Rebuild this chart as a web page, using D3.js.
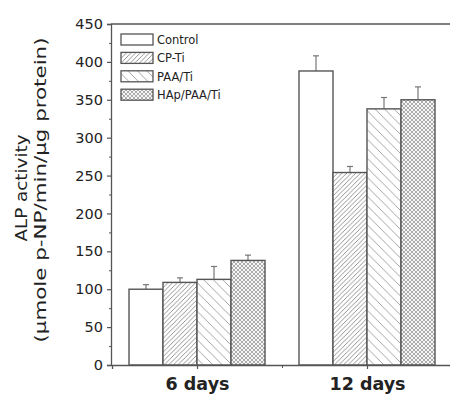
<!DOCTYPE html>
<html><head><meta charset="utf-8">
<script src="https://cdn.jsdelivr.net/npm/d3@7"></script>
<style>body{margin:0;background:#fff}svg{display:block}</style>
</head><body><svg id="c" width="450" height="396"></svg>
<script>
const categories = ["6 days", "12 days"];
const seriesNames = ["Control", "CP-Ti", "PAA/Ti", "HAp/PAA/Ti"];
const controlVals = [100, 388];
const controlErr = [6, 20];
const cptiVals = [109, 254];
const cptiErr = [6, 8];
const paaVals = [113, 338];
const paaErr = [17, 15];
const hapVals = [138, 350];
const hapErr = [7, 17];
const yTicks = [0, 50, 100, 150, 200, 250, 300, 350, 400, 450];

const series = [
  {name: seriesNames[0], vals: controlVals, err: controlErr, fill: "#fff"},
  {name: seriesNames[1], vals: cptiVals, err: cptiErr, fill: "url(#pFwd)"},
  {name: seriesNames[2], vals: paaVals, err: paaErr, fill: "url(#pBack)"},
  {name: seriesNames[3], vals: hapVals, err: hapErr, fill: "url(#pHatch)"}
];

const svg = d3.select("#c");
const font = "DejaVu Sans, Verdana, sans-serif";
const ink = "#555";

const defs = svg.append("defs");
const s1 = 4.6;
const p1 = defs.append("pattern").attr("id", "pFwd").attr("patternUnits", "userSpaceOnUse")
  .attr("width", s1).attr("height", s1);
p1.append("rect").attr("width", s1).attr("height", s1).attr("fill", "#fff");
p1.append("path").attr("d", `M0,${s1} L${s1},0 M${-s1/2},${s1/2} L${s1/2},${-s1/2} M${s1/2},${s1*1.5} L${s1*1.5},${s1/2}`)
  .attr("stroke", "#888").attr("stroke-width", 0.9);
const s2 = 9.5;
const p2 = defs.append("pattern").attr("id", "pBack").attr("patternUnits", "userSpaceOnUse")
  .attr("width", s2).attr("height", s2);
p2.append("rect").attr("width", s2).attr("height", s2).attr("fill", "#fff");
p2.append("path").attr("d", `M0,0 L${s2},${s2} M${-s2/2},${s2/2} L${s2/2},${s2*1.5} M${s2/2},${-s2/2} L${s2*1.5},${s2/2}`)
  .attr("stroke", "#999").attr("stroke-width", 0.9);
const s3 = 4;
const p3 = defs.append("pattern").attr("id", "pHatch").attr("patternUnits", "userSpaceOnUse")
  .attr("width", s3).attr("height", s3);
p3.append("rect").attr("width", s3).attr("height", s3).attr("fill", "#f6f6f6");
p3.append("path").attr("d", `M0,0 L${s3},${s3} M0,${s3} L${s3},0`)
  .attr("stroke", "#999").attr("stroke-width", 0.8);

const x = d3.scaleLinear().domain([-0.5, 1.5]).range([112, 452]);
const y = d3.scaleLinear().domain([0, 450]).range([365, 24]);
const bw = 0.2;

series.forEach((s, j) => {
  const g = svg.append("g");
  g.selectAll("line.err").data(s.vals).enter().append("line")
    .attr("x1", (d, i) => x(i + (j - 1.5) * bw)).attr("x2", (d, i) => x(i + (j - 1.5) * bw))
    .attr("y1", d => y(d)).attr("y2", (d, i) => y(d + s.err[i]))
    .attr("stroke", "#777").attr("stroke-width", 1.2);
  g.selectAll("line.cap").data(s.vals).enter().append("line")
    .attr("x1", (d, i) => x(i + (j - 1.5) * bw) - 3).attr("x2", (d, i) => x(i + (j - 1.5) * bw) + 3)
    .attr("y1", (d, i) => y(d + s.err[i])).attr("y2", (d, i) => y(d + s.err[i]))
    .attr("stroke", "#777").attr("stroke-width", 1.2);
  g.selectAll("rect").data(s.vals).enter().append("rect")
    .attr("x", (d, i) => x(i + (j - 2) * bw))
    .attr("width", (d, i) => x(i + (j - 1) * bw) - x(i + (j - 2) * bw))
    .attr("y", d => y(d)).attr("height", d => y(0) - y(d))
    .attr("fill", s.fill).attr("stroke", ink).attr("stroke-width", 1.4);
});

const yAxis = d3.axisLeft(y).tickValues(yTicks).tickSize(4).tickPadding(4);
const gy = svg.append("g").attr("transform", `translate(${x(-0.5) - 1},0)`).call(yAxis);
gy.select(".domain").attr("stroke", ink).attr("stroke-width", 1.3);
gy.selectAll(".tick line").attr("stroke", ink).attr("stroke-width", 1.2);
gy.selectAll(".tick text").attr("font-family", font).attr("font-size", 14.5).attr("fill", "#222");
const yMinor = d3.axisLeft(y).tickValues(yTicks.slice(0, -1).map(v => v + 25)).tickSize(2).tickFormat("");
const gym = svg.append("g").attr("transform", `translate(${x(-0.5) - 1},0)`).call(yMinor);
gym.select(".domain").remove();
gym.selectAll(".tick line").attr("stroke", ink);

const xAxis = d3.axisBottom(x).tickValues([0, 1]).tickSize(4).tickFormat(i => categories[i]).tickPadding(9);
const gx = svg.append("g").attr("transform", `translate(0,${y(0)})`).call(xAxis);
gx.select(".domain").attr("stroke", ink).attr("stroke-width", 1.3);
gx.selectAll(".tick line").attr("stroke", ink).attr("stroke-width", 1.2);
gx.selectAll(".tick text").attr("font-family", font).attr("font-size", 17.5).attr("font-weight", "bold").attr("fill", "#222");
const xMinor = d3.axisBottom(x).tickValues([0.5]).tickSize(3).tickFormat("");
const gxm = svg.append("g").attr("transform", `translate(0,${y(0)})`).call(xMinor);
gxm.select(".domain").remove();
gxm.selectAll(".tick line").attr("stroke", ink);

svg.append("line").attr("x1", x(-0.5) - 1).attr("x2", 452).attr("y1", y(450)).attr("y2", y(450))
  .attr("stroke", ink).attr("stroke-width", 1.3);

const yt = svg.append("g").attr("transform", "translate(21,188) rotate(-90)");
yt.append("text").attr("x", 0).attr("y", 6).attr("text-anchor", "middle")
  .attr("font-family", font).attr("font-size", 16.5).attr("fill", "#222")
  .attr("textLength", 107).attr("lengthAdjust", "spacingAndGlyphs").text("ALP activity");
yt.append("text").attr("x", -2).attr("y", 25).attr("text-anchor", "middle")
  .attr("font-family", font).attr("font-size", 16.5).attr("fill", "#222")
  .attr("textLength", 305).attr("lengthAdjust", "spacingAndGlyphs").text("(µmole p-NP/min/µg protein)");

const lg = svg.append("g");
series.forEach((s, j) => {
  const yy = 34 + j * 18.4;
  lg.append("rect").attr("x", 121).attr("y", yy).attr("width", 32).attr("height", 11)
    .attr("fill", s.fill).attr("stroke", ink).attr("stroke-width", 1.3);
  lg.append("text").attr("x", 157).attr("y", yy + 10).attr("font-family", font)
    .attr("font-size", 11.5).attr("fill", "#222").text(s.name);
});
</script></body></html>
